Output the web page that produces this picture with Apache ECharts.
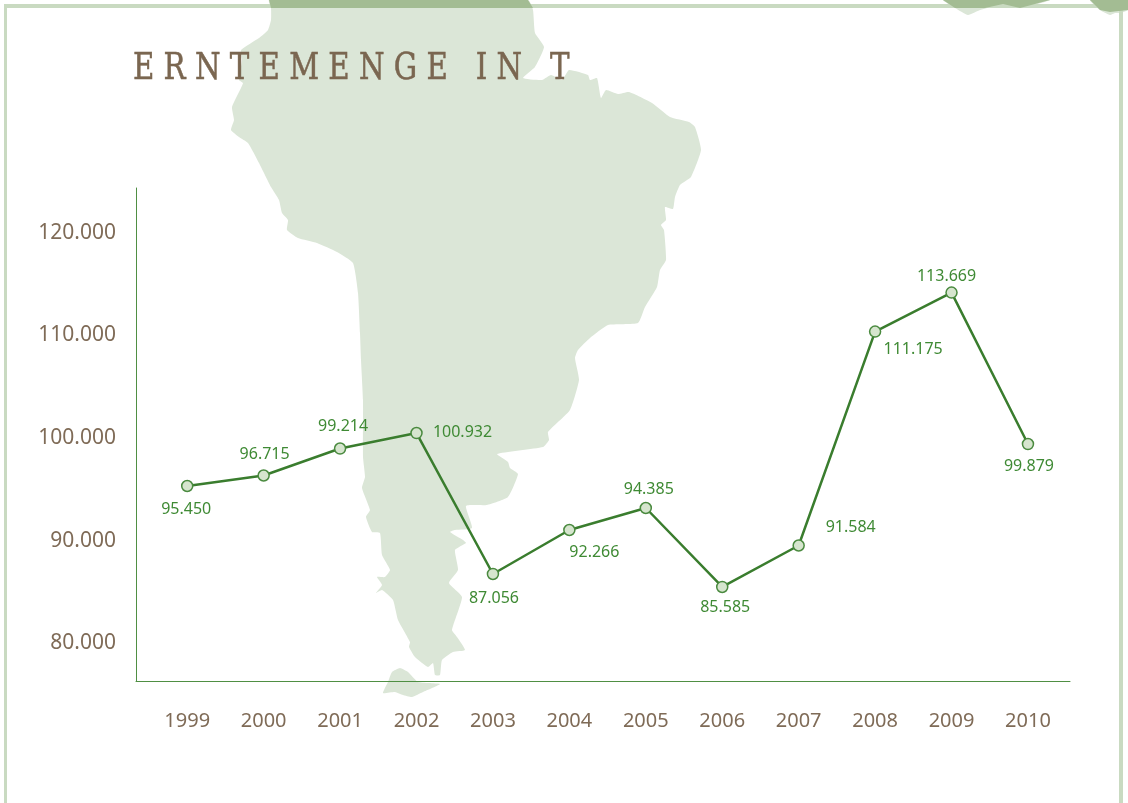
<!DOCTYPE html>
<html>
<head>
<meta charset="utf-8">
<title>Erntemenge in t</title>
<style>
  html, body { margin: 0; padding: 0; background: #fff; }
  #main { width: 1128px; height: 803px; }
</style>
<script src="https://cdn.jsdelivr.net/npm/echarts@6/dist/echarts.min.js"></script>
</head>
<body>
<div id="main"></div>
<script>
var jahre = [1999, 2000, 2001, 2002, 2003, 2004, 2005, 2006, 2007, 2008, 2009, 2010];
var ernte = [95085, 96107, 98735, 100243, 86520, 90803, 92944, 85255, 89294, 110122, 113917, 99173];
// gedruckte Beschriftung an den Punkten
var ernteLabels = ['95.450', '96.715', '99.214', '100.932', '87.056', '92.266', '94.385', '85.585', '91.584', '111.175', '113.669', '99.879'];
var yTicks = [80000, 90000, 100000, 110000, 120000];

var labelOffsets = [[-1, 23], [1, -21], [3, -22], [46, -1], [1, 24], [25, 22], [3, -19], [3, 20], [52, -18], [38, 18], [-5, -16], [1, 22]];

var sansFont = '"Noto Sans", sans-serif';
var braun = '#7f6b57';
var gruen = '#3a7d2e';

// Umriss Suedamerika als Hintergrund (Pixel)
var karte = [[269,0],[271,8],[271,20],[268,30],[259,38],[241,50],[242,60],[239,80],[243,83],[241,88],[232,107],[234,120],[231,130],[239,137],[248,143],[259,163],[271,187],[279,200],[282,213],[288,220],[287,230],[298,238],[317,243],[337,252],[353,263],[358,293],[360,333],[361,360],[363,400],[363,457],[365,477],[362,488],[370,510],[366,517],[372,532],[380,533],[382,555],[390,570],[385,577],[377,577],[382,585],[376,593],[382,590],[393,600],[398,620],[410,642],[409,647],[415,657],[428,667],[433,663],[435,675],[440,675],[442,660],[453,652],[465,650],[457,637],[452,630],[462,597],[449,583],[458,570],[455,550],[466,543],[463,540],[450,532],[455,530],[472,528],[466,506],[487,505],[508,497],[518,474],[510,468],[508,462],[497,454],[543,447],[549,440],[548,432],[570,410],[579,380],[575,358],[578,350],[590,338],[608,325],[638,323],[645,307],[657,287],[660,270],[666,260],[664,230],[661,225],[666,220],[665,207],[673,209],[675,197],[680,185],[691,177],[701,150],[695,127],[689,122],[670,117],[652,103],[629,92],[618,94],[606,90],[601,98],[597,78],[590,80],[588,75],[569,70],[562,80],[551,75],[542,80],[523,78],[535,67],[544,47],[535,33],[533,10],[528,0]];
var feuerland = [[383,693],[388,682],[392,672],[400,668],[408,672],[418,682],[440,684],[423,692],[412,697],[403,695],[395,692]];
var blobA = [[943,0],[955,8],[968,15],[980,10],[1003,4],[1020,8],[1050,0]];
var blobB = [[1090,0],[1100,10],[1110,15],[1115,13],[1120,13],[1128,10],[1128,0]];
var kartenTeile = [karte, feuerland, blobA, blobB];

function flaeche(points, color) {
  return { type: 'polygon', silent: true, z: 0, shape: { points: points, smooth: 0.15 }, style: { fill: color } };
}
function rahmen(x, y, w, h) {
  return { type: 'rect', silent: true, z: 1, shape: { x: x, y: y, width: w, height: h }, style: { fill: '#c9dac1' } };
}

var graphicElements = kartenTeile.map(function (teil) { return flaeche(teil, '#dbe6d7'); });
graphicElements.push(rahmen(4, 4, 1119, 4));
graphicElements.push(rahmen(4, 4, 3, 799));
graphicElements.push(rahmen(1119, 4, 4, 799));
// dunkler Streifen wo Karte und Rahmen sich treffen
[[[269,0],[271,8],[533,8],[528,0]],
 [[943,0],[955,8],[985,8],[1003,4],[1020,8],[1050,0]],
 [[1090,0],[1100,10],[1110,12],[1128,10],[1128,0]]].forEach(function (p) {
  var dunkel = flaeche(p, '#a3bc93');
  dunkel.z = 2;
  dunkel.shape.smooth = 0;
  graphicElements.push(dunkel);
});
// Titel: schmaler gezogen, die Schrift gibt es nicht in condensed genug
graphicElements.push({
  type: 'text',
  silent: true,
  z: 6,
  x: 133,
  y: 50,
  scaleX: 0.855,
  style: {
    text: 'E R N T E M E N G E   I N   T',
    fill: '#7a6650',
    stroke: '#7a6650',
    lineWidth: 0.5,
    font: 'normal 38px "DejaVu Serif Condensed", serif',
    textVerticalAlign: 'top'
  }
});

var myChart = echarts.init(document.getElementById('main'));
myChart.setOption({
  backgroundColor: '#ffffff',
  animation: false,
  graphic: graphicElements,
  grid: { left: 136, right: 58, top: 188, bottom: 122 },
  xAxis: {
    type: 'value',
    min: 1998.33,
    max: 2010.55,
    splitNumber: 12,
    splitLine: { show: false },
    axisTick: { show: false },
    axisLine: { lineStyle: { color: '#4f8f43', width: 1 } },
    axisLabel: {
      color: braun, fontFamily: sansFont, fontSize: 20, margin: 30,
      showMinLabel: false, showMaxLabel: false,
      formatter: function (v) { return jahre.indexOf(v) >= 0 ? String(v) : ''; }
    }
  },
  yAxis: {
    type: 'value',
    min: 76100,
    max: 124100,
    splitNumber: 5,
    splitLine: { show: false },
    axisTick: { show: false },
    axisLine: { show: true, lineStyle: { color: '#4f8f43', width: 1 } },
    axisLabel: {
      color: braun, fontFamily: sansFont, fontSize: 21, margin: 20,
      showMinLabel: false, showMaxLabel: false,
      formatter: function (v) {
        return yTicks.indexOf(v) >= 0 ? '{w|' + String(v / 1000) + '.000}' : '';
      },
      rich: { w: { color: braun, fontFamily: sansFont, fontSize: 21, padding: [5, 0, 0, 0] } }
    }
  },
  series: [{
    type: 'line',
    symbol: 'circle',
    symbolSize: 11,
    z: 5,
    lineStyle: { color: gruen, width: 2.5 },
    itemStyle: { color: '#d6e5ce', borderColor: '#4a8a3f', borderWidth: 1.5 },
    data: jahre.map(function (j, i) {
      return {
        value: [j, ernte[i]],
        label: {
          show: true,
          position: 'inside',
          offset: labelOffsets[i],
          formatter: ernteLabels[i],
          color: '#3f8a34',
          fontFamily: sansFont,
          fontSize: 16
        }
      };
    })
  }]
});
</script>
</body>
</html>
